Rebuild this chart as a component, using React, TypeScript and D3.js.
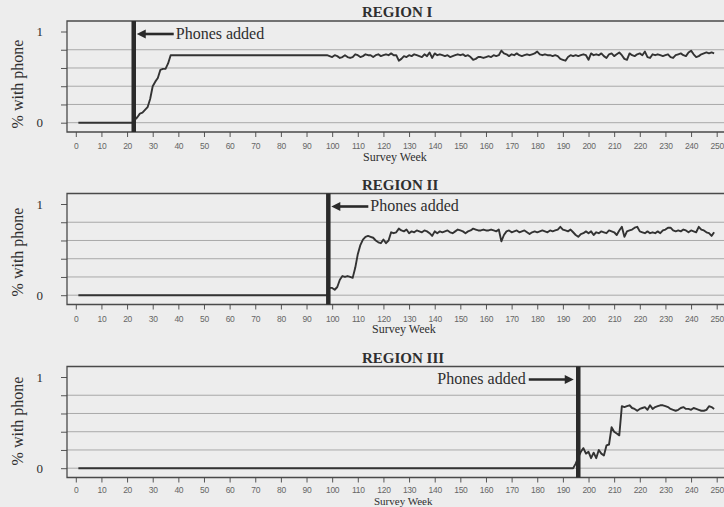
import React, { useEffect, useRef } from 'react';
import * as d3 from 'd3';

const regionNames = ['REGION I', 'REGION II', 'REGION III'];
const phoneWeeks = [22.6, 98.5, 196];
const weekTicks = [0, 10, 20, 30, 40, 50, 60, 70, 80, 90, 100, 110, 120, 130, 140, 150, 160, 170, 180, 190, 200, 210, 220, 230, 240, 250];
const shareTicks = [0, 0.2, 0.4, 0.6, 0.8, 1];
const shareLabels = ['0', '', '', '', '', '1'];

// early part of each series as [week, share]
const region1Early: [number, number][] = [
  [1, 0], [22, 0], [23, 0.03], [24, 0.06], [25, 0.1], [26, 0.11], [27, 0.14], [28, 0.17],
  [29, 0.26], [30, 0.4], [31, 0.45], [32, 0.49], [33, 0.58], [34, 0.59], [35, 0.59], [36, 0.65], [37, 0.74],
];
// weekly values, week 98 to 249
const region1Weekly = [
  0.74, 0.73, 0.72, 0.74, 0.73, 0.71, 0.72, 0.74, 0.72, 0.71, 0.72, 0.75, 0.74, 0.72, 0.73, 0.75,
  0.74, 0.74, 0.72, 0.74, 0.75, 0.73, 0.74, 0.75, 0.74, 0.76, 0.74, 0.74, 0.68, 0.70, 0.73, 0.72,
  0.74, 0.73, 0.75, 0.74, 0.73, 0.72, 0.75, 0.73, 0.77, 0.71, 0.76, 0.74, 0.75, 0.74, 0.73, 0.74,
  0.72, 0.73, 0.74, 0.75, 0.74, 0.75, 0.73, 0.74, 0.72, 0.69, 0.70, 0.72, 0.72, 0.71, 0.72, 0.73,
  0.72, 0.74, 0.73, 0.74, 0.79, 0.76, 0.75, 0.73, 0.75, 0.74, 0.76, 0.74, 0.73, 0.74, 0.75, 0.74,
  0.75, 0.76, 0.78, 0.75, 0.74, 0.75, 0.74, 0.74, 0.73, 0.74, 0.73, 0.70, 0.69, 0.68, 0.72, 0.74,
  0.73, 0.74, 0.73, 0.74, 0.75, 0.74, 0.69, 0.76, 0.74, 0.75, 0.74, 0.76, 0.73, 0.71, 0.75, 0.76,
  0.73, 0.75, 0.77, 0.74, 0.70, 0.69, 0.76, 0.74, 0.73, 0.75, 0.76, 0.74, 0.78, 0.72, 0.71, 0.75,
  0.74, 0.75, 0.74, 0.73, 0.74, 0.75, 0.72, 0.71, 0.74, 0.75, 0.76, 0.74, 0.73, 0.77, 0.79, 0.75,
  0.72, 0.73, 0.75, 0.76, 0.77, 0.76, 0.77, 0.76,
];

const region2Early: [number, number][] = [[1, 0], [98, 0]];
// weekly values, week 99 to 249
const region2Weekly = [
  0.08, 0.08, 0.06, 0.09, 0.17, 0.21, 0.20, 0.21, 0.20, 0.19, 0.30, 0.45, 0.55, 0.61, 0.64, 0.65,
  0.64, 0.63, 0.60, 0.58, 0.57, 0.61, 0.57, 0.60, 0.69, 0.68, 0.69, 0.73, 0.71, 0.70, 0.72, 0.68,
  0.70, 0.69, 0.71, 0.70, 0.69, 0.71, 0.70, 0.68, 0.65, 0.70, 0.68, 0.70, 0.69, 0.70, 0.71, 0.69,
  0.68, 0.70, 0.72, 0.71, 0.70, 0.68, 0.70, 0.71, 0.73, 0.72, 0.71, 0.71, 0.72, 0.71, 0.71, 0.72,
  0.71, 0.70, 0.72, 0.59, 0.66, 0.70, 0.71, 0.69, 0.70, 0.71, 0.69, 0.70, 0.71, 0.69, 0.67, 0.69,
  0.70, 0.69, 0.70, 0.71, 0.70, 0.69, 0.71, 0.70, 0.71, 0.72, 0.75, 0.72, 0.71, 0.70, 0.72, 0.69,
  0.66, 0.64, 0.67, 0.68, 0.70, 0.68, 0.70, 0.66, 0.69, 0.68, 0.70, 0.69, 0.68, 0.71, 0.70, 0.69,
  0.66, 0.71, 0.75, 0.64, 0.70, 0.71, 0.72, 0.74, 0.75, 0.70, 0.69, 0.68, 0.70, 0.68, 0.69, 0.68,
  0.70, 0.68, 0.71, 0.72, 0.74, 0.74, 0.71, 0.70, 0.71, 0.70, 0.72, 0.71, 0.69, 0.71, 0.70, 0.69,
  0.75, 0.72, 0.71, 0.69, 0.68, 0.65, 0.69,
];

const region3Early: [number, number][] = [[1, 0], [194, 0], [195, 0.05]];
// weekly values, week 196 to 249
const region3Weekly = [
  0.12, 0.18, 0.22, 0.16, 0.18, 0.11, 0.17, 0.11, 0.20, 0.16, 0.14, 0.25, 0.26, 0.45, 0.40, 0.38,
  0.36, 0.68, 0.67, 0.68, 0.69, 0.66, 0.65, 0.63, 0.65, 0.66, 0.67, 0.64, 0.69, 0.65, 0.67, 0.68,
  0.69, 0.69, 0.68, 0.67, 0.65, 0.64, 0.63, 0.64, 0.66, 0.67, 0.65, 0.65, 0.64, 0.66, 0.65, 0.64,
  0.63, 0.63, 0.64, 0.68, 0.67, 0.65,
];

const series: [number, number][][] = [
  region1Early.concat(region1Weekly.map((v, i) => [98 + i, v] as [number, number])),
  region2Early.concat(region2Weekly.map((v, i) => [99 + i, v] as [number, number])),
  region3Early.concat(region3Weekly.map((v, i) => [196 + i, v] as [number, number])),
];

// layout
const W = 724;
const H = 507;
const panelTops = [0, 172.5, 345.5];
const tickPad = [6, 6, 4];
const surveyWeekX = [363, 372, 374];
const surveyWeekY = [160.5, 333, 504.5];
const surveyWeekSize = [12, 12, 11];
const yTitleCenter = [84, 252, 421];
const labelSide = ['right', 'right', 'left'];
const serif = "'Liberation Serif', 'Times New Roman', serif";
const sans = "'Liberation Sans', Arial, sans-serif";
const ink = '#2f2f2f';

function App() {
  const ref = useRef<SVGSVGElement>(null);

  useEffect(() => {
    const svg = d3.select(ref.current);
    svg.selectAll('*').remove();
    svg.append('rect').attr('width', W).attr('height', H).attr('fill', '#ededed');

    const x = d3.scaleLinear().domain([0, 250]).range([75.8, 716.7]);
    const frameLeft = 67;
    const frameRight = W + 10;

    regionNames.forEach((name, p) => {
      const o = panelTops[p];
      const g = svg.append('g');
      const y = d3.scaleLinear().domain([0, 1]).range([o + 122.7, o + 31.5]);
      const top = o + 21;
      const bottom = o + 132;

      // grid lines
      g.selectAll('line.grid')
        .data(shareTicks.filter(d => d < 1))
        .enter()
        .append('line')
        .attr('x1', frameLeft)
        .attr('x2', frameRight)
        .attr('y1', d => y(d))
        .attr('y2', d => y(d))
        .attr('stroke', '#a9a9a9')
        .attr('stroke-width', 1);

      // left ticks + labels
      const yAxis = d3.axisLeft(y).tickValues(shareTicks).tickSize(6)
        .tickFormat((d, i) => shareLabels[i]);
      const ya = g.append('g').attr('transform', `translate(${frameLeft},0)`).call(yAxis);
      ya.select('.domain').remove();
      ya.selectAll('line').attr('stroke', '#555');
      ya.selectAll('text')
        .attr('x', -24)
        .attr('font-family', serif)
        .attr('font-size', 13)
        .attr('fill', ink);

      // bottom ticks + labels
      const xAxis = d3.axisBottom(x).tickValues(weekTicks).tickSize(5).tickPadding(tickPad[p]);
      const xa = g.append('g').attr('transform', `translate(0,${bottom})`).call(xAxis);
      xa.select('.domain').remove();
      xa.selectAll('line').attr('stroke', '#555');
      xa.selectAll('text')
        .attr('font-family', sans)
        .attr('font-size', 8.5)
        .attr('letter-spacing', -0.3)
        .attr('fill', '#666');

      // frame
      g.append('path')
        .attr('d', `M${frameRight},${top}H${frameLeft}V${bottom}H${frameRight}`)
        .attr('fill', 'none')
        .attr('stroke', '#4a4a4a')
        .attr('stroke-width', 1.3);

      // data line
      const line = d3.line<[number, number]>().x(d => x(d[0])).y(d => y(d[1]));
      g.append('path')
        .attr('d', line(series[p]))
        .attr('fill', 'none')
        .attr('stroke', '#333')
        .attr('stroke-width', 1.9)
        .attr('stroke-linejoin', 'round');

      // phones added marker
      const px = x(phoneWeeks[p]);
      g.append('line')
        .attr('x1', px).attr('x2', px)
        .attr('y1', top).attr('y2', bottom)
        .attr('stroke', '#2a2a2a')
        .attr('stroke-width', 4.5);

      const ay = o + 34;
      const right = labelSide[p] === 'right';
      const tip = right ? px + 3 : px - 4.5;
      const tail = right ? tip + 37 : tip - 45;
      const dir = right ? 1 : -1;
      g.append('line')
        .attr('x1', tip + dir * 6).attr('x2', tail)
        .attr('y1', ay).attr('y2', ay)
        .attr('stroke', '#2a2a2a')
        .attr('stroke-width', 2.6);
      g.append('path')
        .attr('d', `M${tip},${ay}L${tip + dir * 9},${ay - 4.5}L${tip + dir * 9},${ay + 4.5}Z`)
        .attr('fill', '#2a2a2a');
      g.append('text')
        .attr('x', right ? tail + 2 : tail - 3)
        .attr('y', o + 38.5)
        .attr('text-anchor', right ? 'start' : 'end')
        .attr('font-family', serif)
        .attr('font-size', 16)
        .attr('fill', ink)
        .text('Phones added');

      // titles
      g.append('text')
        .attr('x', 362)
        .attr('y', o + 17.3)
        .attr('font-family', serif)
        .attr('font-weight', 'bold')
        .attr('font-size', 15)
        .attr('fill', ink)
        .text(name);
      g.append('text')
        .attr('x', surveyWeekX[p])
        .attr('y', surveyWeekY[p])
        .attr('font-family', serif)
        .attr('font-size', surveyWeekSize[p])
        .attr('fill', ink)
        .text('Survey Week');
      g.append('text')
        .attr('transform', `translate(17,${yTitleCenter[p]}) rotate(-90)`)
        .attr('dy', '0.35em')
        .attr('text-anchor', 'middle')
        .attr('font-family', serif)
        .attr('font-size', 16)
        .attr('fill', ink)
        .text('% with phone');
    });
  }, []);

  return (
    <svg ref={ref} width={W} height={H} style={{ position: 'absolute', left: 0, top: 0, display: 'block' }} />
  );
}

export default App;
